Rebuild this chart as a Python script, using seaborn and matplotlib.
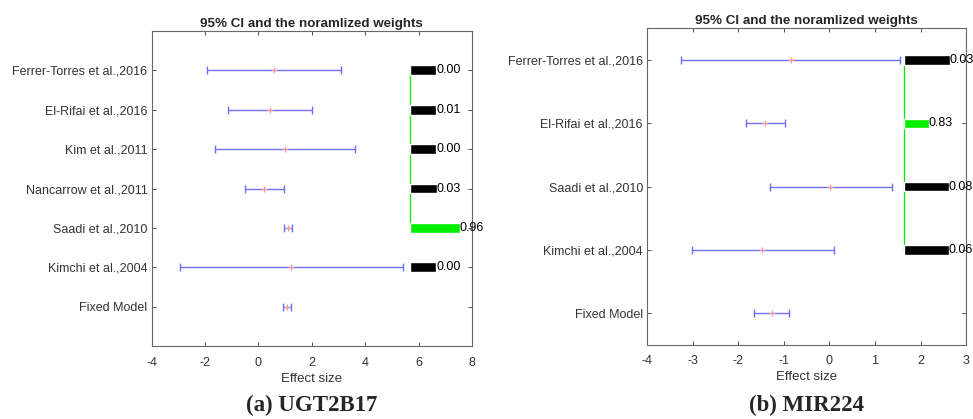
import numpy as np
import pandas as pd
import matplotlib
matplotlib.use("Agg")
import matplotlib.pyplot as plt
import seaborn as sns

# UGT2B17 panel
ugt_studies = ["Ferrer-Torres et al.,2016", "El-Rifai et al.,2016", "Kim et al.,2011",
               "Nancarrow et al.,2011", "Saadi et al.,2010", "Kimchi et al.,2004", "Fixed Model"]
ugt_effect = [0.57, 0.42, 0.99, 0.20, 1.10, 1.20, 1.07]
ugt_lower = [-1.93, -1.16, -1.64, -0.51, 0.95, -2.96, 0.92]
ugt_upper = [3.09, 2.01, 3.62, 0.94, 1.25, 5.41, 1.21]
ugt_weights = [0.00, 0.01, 0.00, 0.03, 0.96, 0.00]
ugt_bar_len = [1.0, 1.0, 1.0, 1.02, 1.88, 1.0]

# MIR224 panel
mir_studies = ["Ferrer-Torres et al.,2016", "El-Rifai et al.,2016", "Saadi et al.,2010",
               "Kimchi et al.,2004", "Fixed Model"]
mir_effect = [-0.84, -1.41, 0.02, -1.48, -1.27]
mir_lower = [-3.26, -1.82, -1.31, -3.02, -1.65]
mir_upper = [1.55, -0.97, 1.37, 0.09, -0.88]
mir_weights = [0.03, 0.83, 0.08, 0.06]
mir_bar_len = [1.0, 0.54, 0.98, 0.98]

sns.set_theme(style="ticks")
plt.rcParams["font.family"] = ["Liberation Sans", "DejaVu Sans"]
plt.rcParams["xtick.direction"] = "in"
plt.rcParams["ytick.direction"] = "in"
plt.rcParams["axes.unicode_minus"] = False


def draw_panel(ax, studies, effect, lower, upper, weights, bar_len,
               bar_start, xlim, ylim, margin, green_to, bar_h, caption):
    n = len(studies)
    ypos = np.arange(n, 0, -1)
    df = pd.DataFrame({"study": studies, "effect": effect,
                       "lower": lower, "upper": upper, "y": ypos})

    # 95% CI
    ax.errorbar(df["effect"], df["y"],
                xerr=[df["effect"] - df["lower"], df["upper"] - df["effect"]],
                fmt="none", ecolor="#6e6eff", elinewidth=1.0, capsize=2.6,
                capthick=1.0, zorder=2)
    sns.scatterplot(data=df, x="effect", y="y", ax=ax, marker="+",
                    color="#ff9090", s=14, linewidth=0.8, zorder=3, legend=False)

    # normalized weights
    wy = ypos[:-1]
    best = int(np.argmax(weights))
    colors = ["#00ee00" if i == best else "black" for i in range(len(weights))]
    ax.barh(wy, bar_len, left=bar_start, height=bar_h, color=colors, zorder=3)
    ax.plot([bar_start, bar_start], [wy[0], wy[green_to]], color="#00ee00",
            lw=0.9, zorder=2)
    for y, w, L in zip(wy, weights, bar_len):
        ax.text(bar_start + L, y, f"{w:.2f}", ha="left", va="center",
                fontsize=9, color="black", clip_on=False)

    ax.set_xlim(*xlim)
    ax.set_ylim(ylim[0] - margin, ylim[1] + margin)
    ax.set_xticks(np.arange(xlim[0], xlim[1] + 1, 1 if xlim[1] - xlim[0] < 9 else 2))
    ax.set_yticks(ypos)
    ax.set_yticklabels(studies)
    ax.tick_params(axis="both", labelsize=9, colors="#333333", length=3,
                   width=0.6, top=True, right=True, pad=3)
    ax.tick_params(axis="x", pad=7.5)
    for sp in ax.spines.values():
        sp.set_color("#666666")
        sp.set_linewidth(0.8)
    ax.set_xlabel("Effect size", fontsize=9.5, color="#333333", labelpad=3)
    ax.set_ylabel("")
    ax.set_title("95% CI and the noramlized weights", fontsize=9.6,
                 fontweight="bold", pad=3)
    pos = ax.get_position()
    ax.figure.text((pos.x0 + pos.x1) / 2, 0.006, caption, ha="center", va="bottom",
                   fontsize=16.5, fontweight="bold", family="Liberation Serif")


fig = plt.figure(figsize=(9.73, 4.19), dpi=100)
ax1 = fig.add_axes([0.156, 0.174, 0.329, 0.752])
ax2 = fig.add_axes([0.665, 0.177, 0.328, 0.755])

draw_panel(ax1, ugt_studies, ugt_effect, ugt_lower, ugt_upper, ugt_weights,
           ugt_bar_len, 5.67, (-4, 8), (1, 7), 1.0, 4, 0.25, "(a) UGT2B17")
draw_panel(ax2, mir_studies, mir_effect, mir_lower, mir_upper, mir_weights,
           mir_bar_len, 1.64, (-4, 3), (1, 5), 0.5, 3, 0.15, "(b) MIR224")

fig.savefig("out.png", dpi=100)
